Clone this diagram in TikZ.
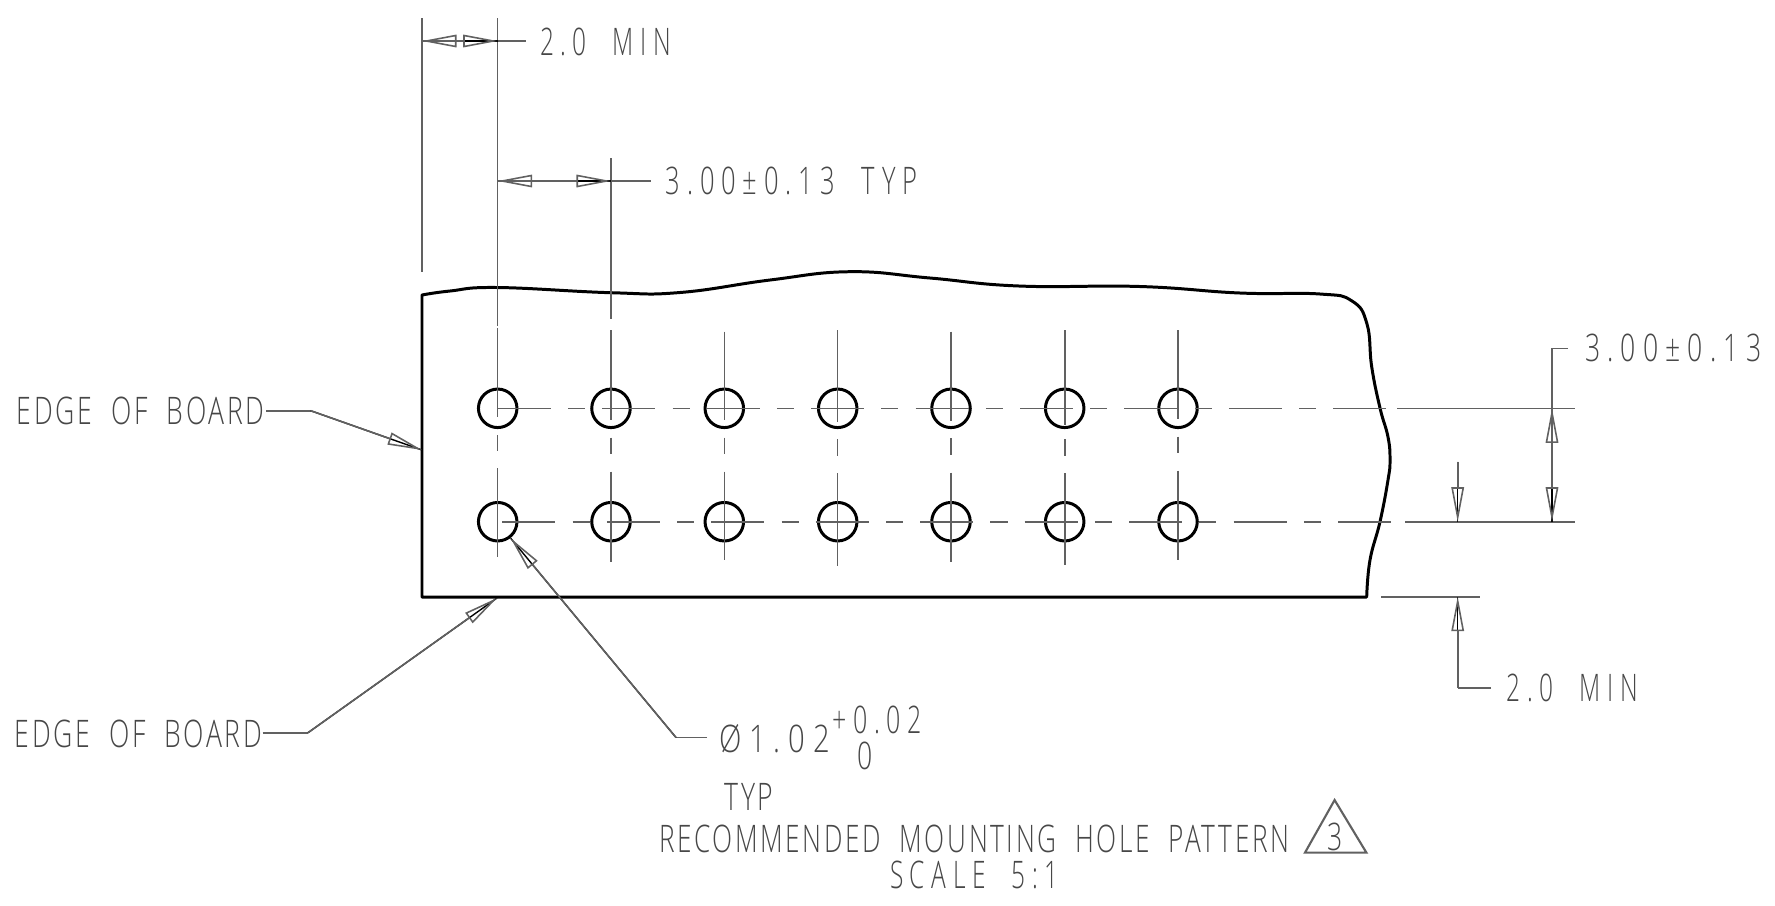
\documentclass[tikz,border=0pt]{standalone}
\usepackage{fontspec}
\newfontfamily\isofont[UprightFont={* Light},LetterSpace=10,WordSpace=2]{Open Sans}
\newfontfamily\isodigits[UprightFont={* Light},LetterSpace=27,WordSpace=2]{Open Sans}
\usetikzlibrary{
  arrows.meta
}
\colorlet{thinink}{black!62}
\tikzset{
  outline/.style={line width=.85pt,black,line join=round},
  hole/.style={circle,draw,line width=.85pt,black,minimum size=.385cm,inner sep=0pt,outer sep=0pt},
  thinline/.style={line width=.45pt,thinink},
  headline/.style={thinline,-{Triangle[open,length=.345cm,width=.125cm]},preaction={draw,-}},
  dashcentre/.style={thinline,dash pattern=on .53cm off .173cm on .17cm off .171cm},
  iso/.style={font=\isofont\fontsize{10.8}{12}\selectfont,text=black!72,inner sep=0pt,outer sep=0pt,xscale=.7,transform shape,anchor=west},
  isonum/.style={iso,font=\isodigits\fontsize{10.8}{12}\selectfont},
}
\begin{document}
\begin{tikzpicture}[x=.01cm,y=-.01cm]
\useasboundingbox (0,0) rectangle (1775,905);
\draw[outline] plot[smooth,tension=.75] coordinates {(422,295) (450,291) (497.5,287.5) (611,292.7) (680,292.5) (770,280) (850,271.7) (930,278) (1019,286) (1140,286.5) (1240,293) (1320,294) (1352,301) (1367,324) (1371.7,366.7) (1380,408) (1388,437) (1390,460) (1388,480) (1380,521.7) (1370,560) (1366.7,597)} -- (422,597) -- cycle;
\foreach \cx [count=\i] in {497.7,611,724.3,837.7,951,1064.7,1178} {
  \node[hole] (h1\i) at (\cx,408.3) {};
  \node[hole] (h2\i) at (\cx,521.7) {};
}
\foreach \cx/\ta/\tb/\da/\db/\ba/\bb in {
  497.7/328/416.7/435/451/468.3/556.7,
  611/330/420/437.7/454.3/471.7/561.7,
  724.3/331.7/420/437.7/454.3/471.7/560,
  837.7/330/421.7/439/456/473.3/565.7,
  951/331.7/420.7/438.3/455/472.7/562.3,
  1064.7/330/425/439.3/456/473.3/565,
  1178/330/419.3/436.7/453.3/470.7/560} {
  \draw[thinline] (\cx,\ta) -- (\cx,\tb);
  \draw[thinline] (\cx,\da) -- (\cx,\db);
  \draw[thinline] (\cx,\ba) -- (\cx,\bb);
}
\coordinate (rowa) at (1386,408.3);
\coordinate (rowb) at (1393.3,521.7);
\coordinate (rowbstart) at (502.3,521.7);
\coordinate (exta) at (1397.3,408.3);
\coordinate (extb) at (1405,521.7);
\coordinate (extc) at (1575,408.3);
\coordinate (extd) at (1575,521.7);
\draw[dashcentre] (h11.center) -- (rowa);
\draw[dashcentre] (rowbstart) -- (rowb);
\draw[thinline] (exta) -- (extc);
\draw[thinline] (extb) -- (extd);
% top dimensions
\coordinate (edgea) at (422,18);
\coordinate (edgeb) at (422,272);
\coordinate (cola) at (497.7,18);
\coordinate (colb) at (497.7,326);
\coordinate (pitcha) at (611,158);
\coordinate (pitchb) at (611,319);
\coordinate (mina) at (422,41);
\coordinate (minb) at (497.7,41);
\coordinate (minc) at (526,41);
\coordinate (ptya) at (497.7,181);
\coordinate (ptyb) at (611,181);
\coordinate (ptyc) at (651,181);
\draw[thinline] (edgea) -- (edgeb);
\draw[thinline] (cola) -- (colb);
\draw[thinline] (pitcha) -- (pitchb);
\draw[headline] (minb) -- (mina);
\draw[headline] (mina) -- (minb);
\draw[thinline] (minb) -- (minc);
\draw[headline] (ptyb) -- (ptya);
\draw[headline] (ptya) -- (ptyb);
\draw[thinline] (ptyb) -- (ptyc);
\node[isonum,xscale=.92] (mintop) at (540,41.5) {2.0 MIN};
\node[isonum,xscale=.96] (pitchtyp) at (665.6,181) {3.00±0.13 TYP};
% right dimensions
\coordinate (spana) at (1552,408.3);
\coordinate (spanb) at (1552,521.7);
\coordinate (spanc) at (1552,348.3);
\coordinate (spand) at (1568,348.3);
\coordinate (gapa) at (1457.7,461.7);
\coordinate (gapb) at (1457.7,521.7);
\coordinate (gapc) at (1457.7,596.7);
\coordinate (gapd) at (1457.7,687.7);
\coordinate (gape) at (1491,687.7);
\coordinate (basea) at (1381,596.7);
\coordinate (baseb) at (1480,596.7);
\draw[thinline] (spand) -- (spanc) -- (spana);
\draw[headline] (spanb) -- (spana);
\draw[headline] (spana) -- (spanb);
\draw[headline] (gapa) -- (gapb);
\draw[thinline] (basea) -- (baseb);
\draw[thinline] (gape) -- (gapd);
\draw[headline] (gapd) -- (gapc);
\node[isonum] (pitchright) at (1585,348.3) {3.00±0.13};
\node[isonum,xscale=.92] (minright) at (1506.7,688) {2.0 MIN};
% leaders
\node[iso] (edgetop) at (17,411) {EDGE OF BOARD};
\node[iso] (edgelow) at (14.7,733.5) {EDGE OF BOARD};
\coordinate (benda) at (310.7,410.7);
\coordinate (tipa) at (422,450);
\coordinate (bendb) at (308,732.7);
\coordinate (tipb) at (497,598);
\coordinate (bendc) at (676,737.5);
\coordinate (tipc) at (510.7,538.3);
\coordinate (linea) at (266,410.7);
\coordinate (lineb) at (262.5,732.7);
\coordinate (linec) at (707,737.5);
\draw[thinline] (linea) -- (benda);
\draw[headline] (benda) -- (tipa);
\draw[thinline] (lineb) -- (bendb);
\draw[headline] (bendb) -- (tipb);
\draw[thinline] (linec) -- (bendc);
\draw[headline] (bendc) -- (tipc);
% notes
\node[isonum,xscale=1.1] (holedia) at (719,739) {Ø1.02};
\node[isonum,xscale=.94] (holeplus) at (832,720) {+0.02};
\node[iso] (holezero) at (857,756) {0};
\node[iso] (holetyp) at (724.5,797) {TYP};
\node[iso,xscale=.985] (title) at (659,839) {RECOMMENDED MOUNTING HOLE PATTERN};
\node[isonum,xscale=.92] (scaleline) at (890,875) {SCALE 5:1};
\coordinate (tria) at (1334.6,800);
\coordinate (trib) at (1305,852.6);
\coordinate (tric) at (1366.4,852.6);
\draw[thinline,line width=.6pt] (tria) -- (trib) -- (tric) -- cycle;
\node[iso,anchor=center] (notenum) at (1334.6,837) {3};
\end{tikzpicture}
\end{document}
